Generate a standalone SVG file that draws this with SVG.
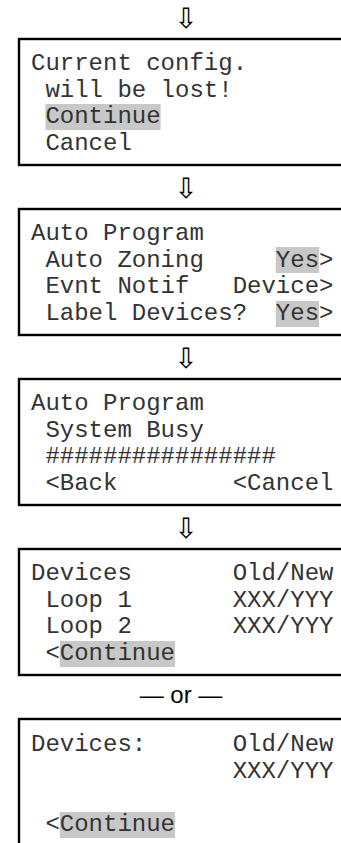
<svg xmlns="http://www.w3.org/2000/svg" width="341" height="843" viewBox="0 0 341 843">
<style>
.box{fill:none;stroke:#000;stroke-width:2.4}
.t{font-family:"Liberation Mono","Courier New",monospace;font-size:24px;fill:#333;white-space:pre}
.hl{fill:#c8c8c8}
.arr{font-family:"DejaVu Sans",sans-serif;font-size:28px;fill:#000;text-anchor:middle}
.or{font-family:"Liberation Sans",Arial,sans-serif;font-size:24px;fill:#000;text-anchor:middle}
</style>
<rect width="341" height="843" fill="#fff"/>
<g id="connectors">
<text class="arr" x="186" y="28">⇩</text>
<text class="arr" x="186" y="198">⇩</text>
<text class="arr" x="186" y="368">⇩</text>
<text class="arr" x="186" y="538">⇩</text>
<text class="or" x="181" y="703">— or —</text>
</g>
<g id="screen1">
<rect class="box" x="19" y="39" width="340" height="126"/>
<rect class="hl" x="45.4" y="104" width="115.2" height="26"/>
<text class="t" x="31" y="70">Current config.</text>
<text class="t" x="31" y="96.7"> will be lost!</text>
<text class="t" x="31" y="123.3"> Continue</text>
<text class="t" x="31" y="150"> Cancel</text>
</g>
<g id="screen2">
<rect class="box" x="19" y="209" width="340" height="126"/>
<rect class="hl" x="275.8" y="247" width="43.2" height="26"/>
<rect class="hl" x="275.8" y="301" width="43.2" height="26"/>
<text class="t" x="31" y="240">Auto Program</text>
<text class="t" x="31" y="266.7"> Auto Zoning     Yes&gt;</text>
<text class="t" x="31" y="293.3"> Evnt Notif   Device&gt;</text>
<text class="t" x="31" y="320"> Label Devices?  Yes&gt;</text>
</g>
<g id="screen3">
<rect class="box" x="19" y="379" width="340" height="126"/>
<text class="t" x="31" y="410">Auto Program</text>
<text class="t" x="31" y="436.7"> System Busy</text>
<text class="t" x="31" y="463.3"> ################</text>
<text class="t" x="31" y="490"> &lt;Back        &lt;Cancel</text>
</g>
<g id="screen4">
<rect class="box" x="19" y="549" width="340" height="126"/>
<rect class="hl" x="59.8" y="641" width="115.2" height="26"/>
<text class="t" x="31" y="580">Devices       Old/New</text>
<text class="t" x="31" y="606.7"> Loop 1       XXX/YYY</text>
<text class="t" x="31" y="633.3"> Loop 2       XXX/YYY</text>
<text class="t" x="31" y="660"> &lt;Continue</text>
</g>
<g id="screen5">
<rect class="box" x="19" y="719" width="340" height="140"/>
<rect class="hl" x="59.8" y="812" width="115.2" height="26"/>
<text class="t" x="31" y="751">Devices:      Old/New</text>
<text class="t" x="31" y="777.7">              XXX/YYY</text>
<text class="t" x="31" y="831"> &lt;Continue</text>
</g>
</svg>
